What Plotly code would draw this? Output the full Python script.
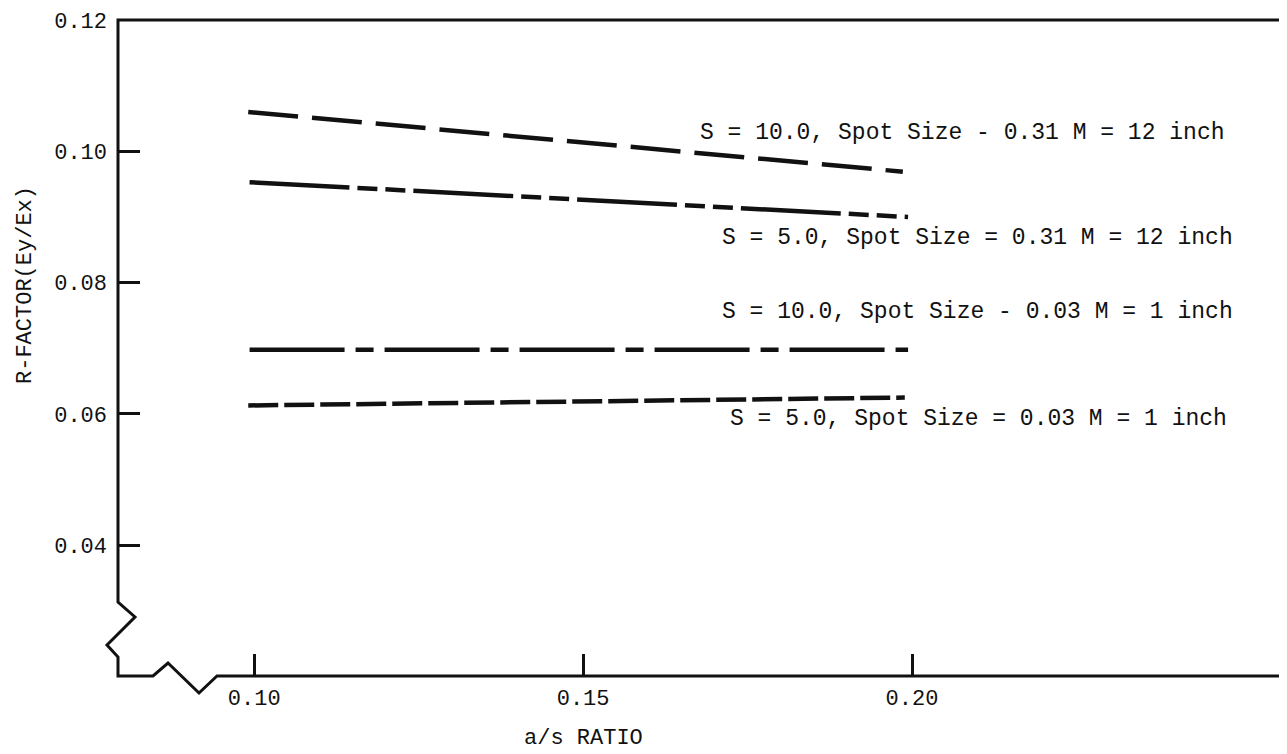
"""R-factor vs a/s ratio chart, redrawn from a scanned report figure."""

import plotly.graph_objects as go

# a/s ratio at the two ends of each curve
X_S10_M12 = [0.0991, 0.1986]
X_S5_M12 = [0.0993, 0.1994]
X_S10_M1 = [0.0993, 0.1994]
X_S5_M1 = [0.0991, 0.1989]

# R-factor (Ey/Ex) at those ends
Y_S10_M12 = [0.1060, 0.0969]
Y_S5_M12 = [0.0953, 0.0900]
Y_S10_M1 = [0.0698, 0.0698]
Y_S5_M1 = [0.0613, 0.0625]

LABELS = [
    "S = 10.0, Spot Size - 0.31 M = 12 inch",
    "S = 5.0, Spot Size = 0.31 M = 12 inch",
    "S = 10.0, Spot Size - 0.03 M = 1 inch",
    "S = 5.0, Spot Size = 0.03 M = 1 inch",
]
LABEL_X = [0.1675, 0.1708, 0.1708, 0.1720]
LABEL_Y = [0.1028, 0.0868, 0.0755, 0.0593]

X_TICKS = [0.10, 0.15, 0.20]
X_TICK_TEXT = ["0.10", "0.15", "0.20"]
Y_TICKS = [0.04, 0.06, 0.08, 0.10, 0.12]
Y_TICK_TEXT = ["0.04", "0.06", "0.08", "0.10", "0.12"]

X_RANGE = [0.0793, 0.2570]
Y_RANGE = [0.0201, 0.1200]

FONT = "Liberation Mono, Courier New, monospace"
INK = "#111111"

# dash patterns as they look on the scan
_DASHES = {
    "s10_m12": "50px,14px",
    "s5_m12": "100px,8px,20px,8px,20px,8px",
    "s10_m1": "95px,11px,18px,11px",
    "s5_m1": "30px,6px",
}


def build_figure() -> go.Figure:
    fig = go.Figure()

    series = [
        (X_S10_M12, Y_S10_M12, "s10_m12"),
        (X_S5_M12, Y_S5_M12, "s5_m12"),
        (X_S10_M1, Y_S10_M1, "s10_m1"),
        (X_S5_M1, Y_S5_M1, "s5_m1"),
    ]
    for xs, ys, key in series:
        fig.add_trace(
            go.Scatter(
                x=xs,
                y=ys,
                mode="lines",
                line=dict(color=INK, width=4.5, dash=_DASHES[key]),
                showlegend=False,
                hoverinfo="skip",
            )
        )

    # curve labels
    for text, lx, ly in zip(LABELS, LABEL_X, LABEL_Y):
        fig.add_annotation(
            x=lx, y=ly, text=text, showarrow=False,
            xanchor="left", yanchor="middle",
            font=dict(family=FONT, size=23, color=INK),
        )

    # axis titles
    fig.add_annotation(
        x=0.15, y=0, xref="x", yref="paper", yshift=-62,
        text="a/s RATIO", showarrow=False, yanchor="middle",
        font=dict(family=FONT, size=22, color=INK),
    )
    fig.add_annotation(
        x=0, y=0.596, xref="paper", yref="paper", xshift=-93,
        text="R-FACTOR(Ey/Ex)", showarrow=False, textangle=-90,
        xanchor="center", yanchor="middle",
        font=dict(family=FONT, size=22, color=INK),
    )

    # frame with the broken-axis zigzags at the origin (pixels from corner)
    fig.add_shape(
        type="path",
        xref="paper", yref="paper",
        xsizemode="pixel", ysizemode="pixel",
        xanchor=0, yanchor=0,
        path=(
            "M 1169,656 L 0,656 L 0,74 L 17,59 L -11,31 L 0,19 L 0,0 "
            "L 35,0 L 50,13 L 81,-17 L 99,0 L 1169,0"
        ),
        line=dict(color=INK, width=3),
    )

    tick_font = dict(family=FONT, size=22, color=INK)
    fig.update_xaxes(
        range=X_RANGE,
        tickvals=X_TICKS,
        ticktext=X_TICK_TEXT,
        ticks="inside",
        ticklen=22,
        tickwidth=2.5,
        tickcolor=INK,
        tickfont=tick_font,
        ticklabelstandoff=6,
        showline=False,
        showgrid=False,
        zeroline=False,
    )
    fig.update_yaxes(
        range=Y_RANGE,
        tickvals=Y_TICKS,
        ticktext=Y_TICK_TEXT,
        ticks="inside",
        ticklen=22,
        tickwidth=2.5,
        tickcolor=INK,
        tickfont=tick_font,
        ticklabelstandoff=10,
        showline=False,
        showgrid=False,
        zeroline=False,
    )

    # page body adds an 8px offset, so the figure is sized to the rest of the window
    fig.update_layout(
        width=1279,
        height=746,
        margin=dict(l=110, r=0, t=12, b=78),
        paper_bgcolor="white",
        plot_bgcolor="white",
        font=dict(family=FONT, color=INK),
        showlegend=False,
    )
    return fig


fig = build_figure()
fig.write_html("out.html")
